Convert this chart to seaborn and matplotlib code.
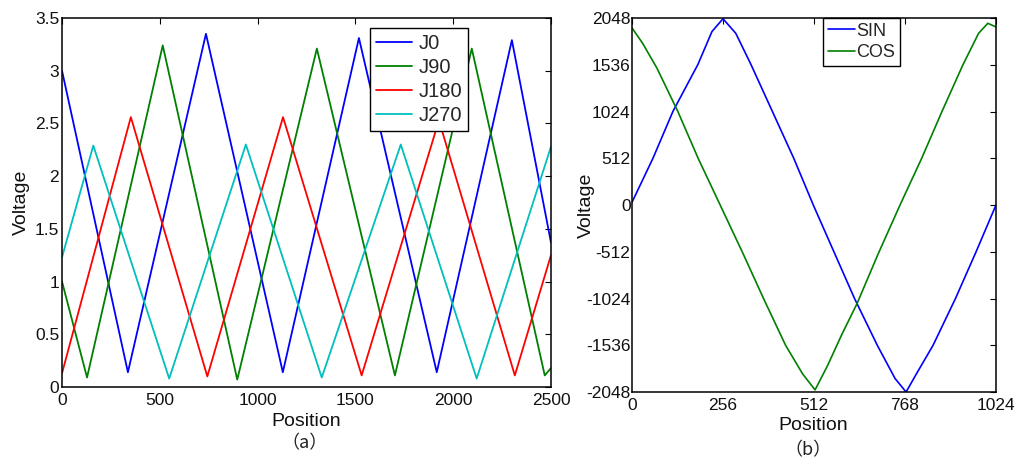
import matplotlib
matplotlib.use("Agg")
import matplotlib.pyplot as plt
import pandas as pd
import seaborn as sns

# ---- (a) four-channel photodetector voltages vs. position (vertex readings) ----
j0_pos = [0, 337, 736, 1129, 1518, 1916, 2300, 2500]
j0_val = [3.00, 0.14, 3.35, 0.14, 3.31, 0.14, 3.29, 1.37]
j90_pos = [0, 128, 515, 896, 1303, 1702, 2095, 2468, 2500]
j90_val = [1.00, 0.09, 3.24, 0.07, 3.21, 0.11, 3.21, 0.11, 0.18]
j180_pos = [0, 352, 743, 1130, 1532, 1927, 2315, 2500]
j180_val = [0.13, 2.56, 0.10, 2.56, 0.11, 2.53, 0.11, 1.25]
j270_pos = [0, 160, 548, 940, 1328, 1732, 2120, 2500]
j270_val = [1.23, 2.29, 0.08, 2.30, 0.09, 2.30, 0.08, 2.28]

names_a = ["J0", "J90", "J180", "J270"]
colors_a = ["#0000ff", "#008000", "#ff0000", "#00bfbf"]
a_xticks = [0, 500, 1000, 1500, 2000, 2500]
a_yticks = [0, 0.5, 1, 1.5, 2, 2.5, 3, 3.5]
a_yticklabels = ["0", "0.5", "1", "1.5", "2", "2.5", "3", "3.5"]

# ---- (b) SIN / COS outputs over one electrical period ----
sin_pos = [0, 59, 115, 185, 225, 256, 292, 335, 395, 455, 510, 568, 626,
           690, 740, 771, 800, 847, 910, 968, 1024]
sin_val = [30, 512, 1024, 1536, 1900, 2040, 1880, 1536, 1024, 512, 0, -512,
           -1024, -1536, -1900, -2048, -1850, -1536, -1024, -512, 0]
cos_pos = [0, 30, 70, 129, 186, 248, 310, 370, 432, 480, 515, 550, 590,
           633, 692, 754, 815, 872, 931, 975, 1001, 1024]
cos_val = [1940, 1770, 1500, 1024, 512, 0, -512, -1024, -1536, -1850, -2025,
           -1760, -1420, -1080, -540, 0, 512, 1024, 1536, 1880, 1990, 1950]

names_b = ["SIN", "COS"]
colors_b = ["#0000ff", "#008000"]
b_xticks = [0, 256, 512, 768, 1024]
b_yticks = [-2048, -1536, -1024, -512, 0, 512, 1024, 1536, 2048]

sns.set_theme(style="white")
plt.rcParams["font.family"] = ["Liberation Sans", "DejaVu Sans"]
plt.rcParams["axes.edgecolor"] = "black"
plt.rcParams["axes.linewidth"] = 1.1
plt.rcParams["axes.unicode_minus"] = False

W, H = 1016, 459
fig = plt.figure(figsize=(W / 100, H / 100), dpi=100)


def px_axes(x0, y0, x1, y1):
    return fig.add_axes([x0 / W, 1 - y1 / H, (x1 - x0) / W, (y1 - y0) / H])


def style_axes(ax, ypad):
    ax.tick_params(direction="in", top=True, right=True, length=4, width=0.8,
                   colors="black", labelsize=12.5, labelcolor="#111111")
    ax.tick_params(axis="y", pad=ypad)
    ax.tick_params(axis="x", pad=4)
    for s in ax.spines.values():
        s.set_visible(True)
        s.set_color("black")
    ax.grid(False)


# ---------------- panel (a) ----------------
ax1 = px_axes(62, 18, 551, 387)
series_a = [(j0_pos, j0_val), (j90_pos, j90_val), (j180_pos, j180_val),
            (j270_pos, j270_val)]
for (xs, ys), name, col in zip(series_a, names_a, colors_a):
    df = pd.DataFrame({"Position": xs, "Voltage": ys})
    sns.lineplot(data=df, x="Position", y="Voltage", color=col, label=name,
                 linewidth=1.3, estimator=None, sort=False, ax=ax1)
ax1.set_xlim(0, 2500)
ax1.set_ylim(0, 3.5)
ax1.set_xticks(a_xticks)
ax1.set_yticks(a_yticks)
ax1.set_yticklabels(a_yticklabels)
style_axes(ax1, 2)
ax1.set_xlabel("Position", fontsize=14, va="baseline", color="#111111")
ax1.set_ylabel("Voltage", fontsize=14, va="center", color="#111111")
ax1.xaxis.set_label_coords(0.499, -0.105)
ax1.yaxis.set_label_coords(-0.084, 0.5)
leg1 = ax1.legend(loc="upper right", bbox_to_anchor=(0.830, 0.973),
                  fontsize=14.5, frameon=True, fancybox=False, framealpha=1,
                  edgecolor="black", borderaxespad=0, handlelength=1.8,
                  handletextpad=0.3, labelspacing=0.25, borderpad=0.3)
leg1.get_frame().set_linewidth(1.0)

# ---------------- panel (b) ----------------
ax2 = px_axes(632, 18, 996, 392)
series_b = [(sin_pos, sin_val), (cos_pos, cos_val)]
for (xs, ys), name, col in zip(series_b, names_b, colors_b):
    df = pd.DataFrame({"Position": xs, "Voltage": ys})
    sns.lineplot(data=df, x="Position", y="Voltage", color=col, label=name,
                 linewidth=1.2, estimator=None, sort=False, ax=ax2)
ax2.set_xlim(0, 1024)
ax2.set_ylim(-2048, 2048)
ax2.set_xticks(b_xticks)
ax2.set_yticks(b_yticks)
style_axes(ax2, 1)
ax2.set_xlabel("Position", fontsize=14, va="baseline", color="#111111")
ax2.set_ylabel("Voltage", fontsize=14, va="center", color="#111111")
ax2.xaxis.set_label_coords(0.497, -0.102)
ax2.yaxis.set_label_coords(-0.126, 0.5)
leg2 = ax2.legend(loc="upper right", bbox_to_anchor=(0.736, 1.0),
                  fontsize=13, frameon=True, fancybox=False, framealpha=1,
                  edgecolor="black", borderaxespad=0, handlelength=1.5,
                  handletextpad=0.1, labelspacing=0.25, borderpad=0.25)
leg2.get_frame().set_linewidth(1.0)

# sub-figure captions
cap_font = ["Noto Sans CJK SC", "DejaVu Sans"]
fig.text(305 / W, 1 - 443 / H, "（a）", ha="center", va="center",
         fontsize=13, family=cap_font, color="#222222")
fig.text(808 / W, 1 - 450 / H, "（b）", ha="center", va="center",
         fontsize=13, family=cap_font, color="#222222")

fig.savefig("out.png", dpi=100)
